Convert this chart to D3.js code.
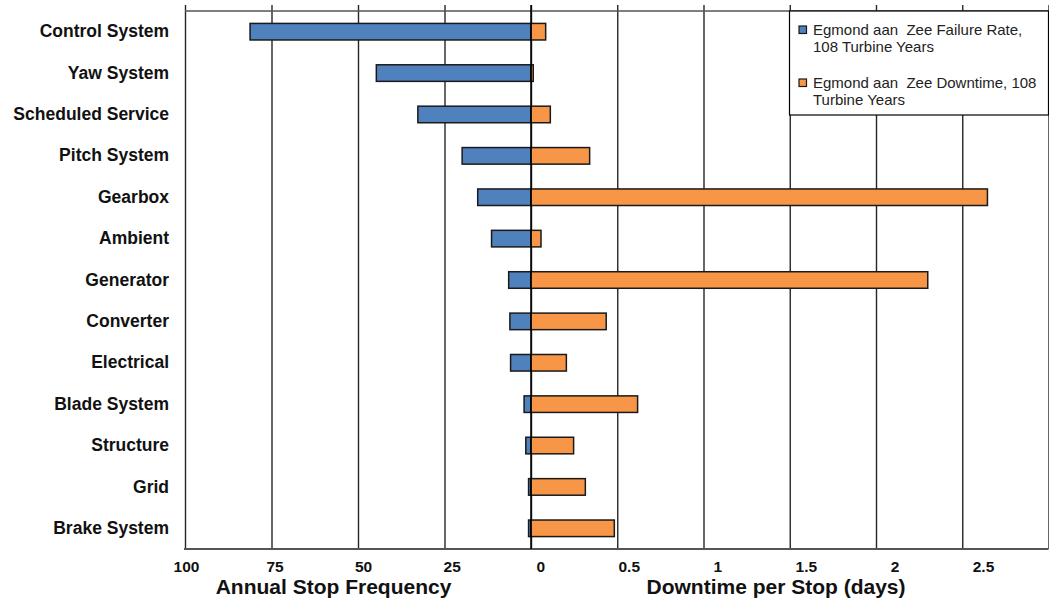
<!DOCTYPE html>
<html>
<head>
<meta charset="utf-8">
<script src="https://cdn.jsdelivr.net/npm/d3@7"></script>
<style>
  html, body { margin: 0; padding: 0; background: #fff; }
  svg { display: block; }
  text { font-family: "Liberation Sans", Arial, sans-serif; }
</style>
</head>
<body>
<svg id="chart" width="1049" height="600"></svg>
<script>
const categories = ["Control System", "Yaw System", "Scheduled Service", "Pitch System", "Gearbox",
  "Ambient", "Generator", "Converter", "Electrical", "Blade System", "Structure", "Grid", "Brake System"];
const failureRate = [81.2, 44.7, 32.7, 19.9, 15.4, 11.4, 6.45, 6.1, 5.9, 2.0, 1.5, 0.7, 0.7];
const downtime = [0.085, 0.013, 0.112, 0.34, 2.646, 0.058, 2.30, 0.436, 0.205, 0.618, 0.247, 0.315, 0.483];
const leftTicks = [100, 75, 50, 25, 0];
const rightTicks = [0.5, 1, 1.5, 2, 2.5, 3];
const tickLabels = ["100", "75", "50", "25", "0", "0.5", "1", "1.5", "2", "2.5"];
const seriesNames = [["Egmond aan  Zee Failure Rate,", "108 Turbine Years"],
                     ["Egmond aan  Zee Downtime, 108", "Turbine Years"]];
const axisTitles = ["Annual Stop Frequency", "Downtime per Stop (days)"];

(function () {
const svg = d3.select("#chart");
const plotTop = 11, plotBottom = 549, plotLeft = 185, zero = 531, plotRight = 1048.5;
const blue = "#4f81bd", orange = "#f79646";

const xLeft = d3.scaleLinear().domain([100, 0]).range([plotLeft, zero]);
const xRight = d3.scaleLinear().domain([0, 3]).range([zero, plotRight]);
const y = d3.scaleBand().domain(categories).range([plotTop, plotBottom]).paddingInner(0.6).paddingOuter(0.3);
const labelX = d3.scalePoint().domain(tickLabels).range([186, 983]);

// gridlines + top tick marks
function grid(scale, ticks) {
  const g = svg.append("g").attr("transform", `translate(0,${plotBottom})`)
    .call(d3.axisBottom(scale).tickValues(ticks).tickSize(-(plotBottom - 5)).tickFormat(""));
  g.select(".domain").remove();
  g.selectAll(".tick line").attr("stroke", "#262626").attr("stroke-width", 1.4);
}
grid(xLeft, leftTicks);
grid(xRight, rightTicks);

// plot border top/bottom
svg.append("line").attr("x1", plotLeft).attr("x2", plotRight).attr("y1", plotTop).attr("y2", plotTop)
  .attr("stroke", "#555").attr("stroke-width", 1.6);
svg.append("line").attr("x1", plotLeft - 1).attr("x2", plotRight).attr("y1", plotBottom).attr("y2", plotBottom)
  .attr("stroke", "#555").attr("stroke-width", 2);

// bars
const bars = svg.append("g");
bars.selectAll("rect.fr").data(categories).join("rect").attr("class", "fr")
  .attr("x", (d, i) => xLeft(failureRate[i]))
  .attr("y", d => y(d))
  .attr("width", (d, i) => xLeft(0) - xLeft(failureRate[i]))
  .attr("height", y.bandwidth())
  .attr("fill", blue).attr("stroke", "#1a1a1a").attr("stroke-width", 1.5);
bars.selectAll("rect.dt").data(categories).join("rect").attr("class", "dt")
  .attr("x", xRight(0))
  .attr("y", d => y(d))
  .attr("width", (d, i) => xRight(downtime[i]) - xRight(0))
  .attr("height", y.bandwidth())
  .attr("fill", orange).attr("stroke", "#1a1a1a").attr("stroke-width", 1.5);

// zero line on top
svg.append("line").attr("x1", zero).attr("x2", zero).attr("y1", 5).attr("y2", plotBottom)
  .attr("stroke", "#000").attr("stroke-width", 1.5);

// category labels
const yAxis = svg.append("g").attr("transform", `translate(${plotLeft},0)`)
  .call(d3.axisLeft(y).tickSize(0).tickPadding(16));
yAxis.select(".domain").remove();
yAxis.selectAll("text").attr("font-size", "17.5px").attr("font-weight", "bold")
  .attr("fill", "#111").style("font-family", '"Liberation Sans", Arial, sans-serif');

// x tick labels
const xAxis = svg.append("g").attr("transform", `translate(0,${plotBottom})`)
  .call(d3.axisBottom(labelX).tickSize(0).tickPadding(12));
xAxis.select(".domain").remove();
xAxis.selectAll("text").attr("font-size", "15.5px").attr("font-weight", "bold")
  .attr("fill", "#111").style("font-family", '"Liberation Sans", Arial, sans-serif');

// axis titles
svg.append("text").attr("x", 333.5).attr("y", 594).attr("text-anchor", "middle")
  .attr("font-size", "21px").attr("font-weight", "bold").attr("fill", "#111").text(axisTitles[0]);
svg.append("text").attr("x", 776).attr("y", 594).attr("text-anchor", "middle")
  .attr("font-size", "21px").attr("font-weight", "bold").attr("fill", "#111").text(axisTitles[1]);

// legend
const lg = svg.append("g");
lg.append("rect").attr("x", 789.5).attr("y", plotTop).attr("width", plotRight - 789.5).attr("height", 104)
  .attr("fill", "#fff").attr("stroke", "#000").attr("stroke-width", 1.2);
const colors = [blue, orange];
const baseY = [35, 88];
seriesNames.forEach((lines, i) => {
  lg.append("rect").attr("x", 799).attr("y", baseY[i] - 9).attr("width", 7.5).attr("height", 7.5)
    .attr("fill", colors[i]).attr("stroke", "#1a1a1a").attr("stroke-width", 1.2);
  lines.forEach((t, j) => {
    lg.append("text").attr("x", 813).attr("y", baseY[i] + j * 17)
      .attr("font-size", "15px").attr("fill", "#222").attr("xml:space", "preserve")
      .style("white-space", "pre").text(t);
  });
});
})();
</script>
</body>
</html>
